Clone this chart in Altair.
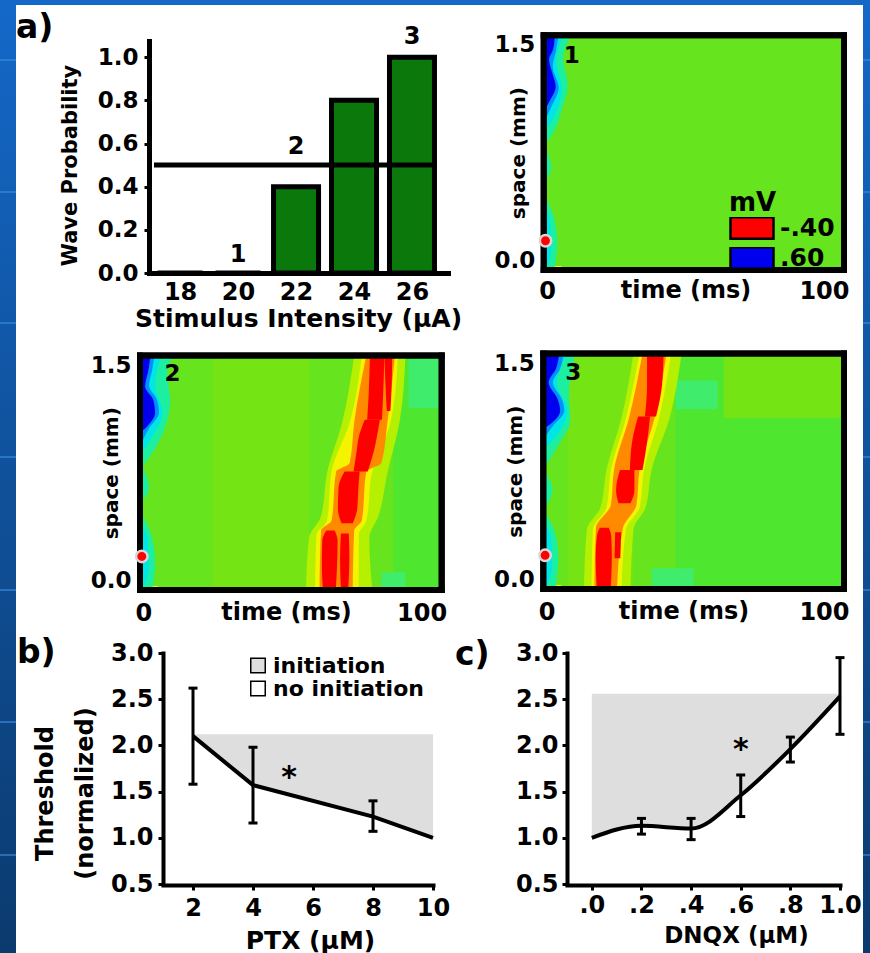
import altair as alt
import pandas as pd

W, H = 870, 953
FONT = "DejaVu Sans"

# ------------------------------------------------------------------ data
intensity = [18, 20, 22, 24, 26]
wave_prob = [0.0, 0.0, 0.4, 0.8, 1.0]
half_prob = 0.5
note_text = ["1", "2", "3"]
note_intensity = [20, 22, 26]
note_prob = [0.03, 0.53, 1.04]

ptx = [2, 4, 8, 10]
ptx_threshold = [2.10, 1.57, 1.23, 1.00]
ptx_err_x = [2, 4, 8]
ptx_err_lo = [1.58, 1.16, 1.07]
ptx_err_hi = [2.62, 1.98, 1.40]
ptx_initiation_top = 2.12
ptx_star = [5.2, 1.70]

dnqx = [0.0, 0.2, 0.4, 0.6, 0.8, 1.0]
dnqx_threshold = [1.00, 1.13, 1.10, 1.46, 1.96, 2.53]
dnqx_err_x = [0.2, 0.4, 0.6, 0.8, 1.0]
dnqx_err_lo = [1.04, 0.98, 1.23, 1.82, 2.12]
dnqx_err_hi = [1.21, 1.21, 1.68, 2.09, 2.95]
dnqx_initiation_top = 2.56
dnqx_star = [0.6, 2.0]

region_names = ["initiation", "no initiation"]
region_colors = ["#dedede", "#ffffff"]

level_names = ["-.40", "orange", "yellow", "ygreen", "lgreen", "green", "pgreen",
               "aqua2", "aqua", "cyan", "sky", ".60"]
level_colors = ["#ff0000", "#ff8a00", "#f4f400", "#b4f000", "#74e414", "#66e41e",
                "#4ee62e", "#40ec6c", "#1cf0a0", "#00e6e6", "#0090ff", "#0000ee"]
S_MIN, S_MAX = -0.063, 1.566

zones1 = [("yellow", 0, 6, -0.063, -0.035)]
zones2 = [("lgreen", 24, 56, -0.063, 1.566), ("pgreen", 84, 100, -0.063, 1.566),
          ("aqua2", 89, 99, 1.2, 1.566), ("aqua2", 80, 88, -0.063, 0.06),
          ("yellow", 0, 6, -0.063, -0.035)]
zones3 = [("lgreen", 8, 30, -0.063, 1.566), ("pgreen", 44, 100, -0.063, 1.566),
          ("lgreen", 60, 100, 1.12, 1.566), ("aqua2", 44, 58, 1.18, 1.38),
          ("aqua2", 36, 50, -0.063, 0.08), ("yellow", 0, 6, -0.063, -0.035)]

rings1 = {
    "aqua": {"top": [(0.82, 0, 1.0), (0.92, 0, 4.0), (1.05, 0, 6.0), (1.22, 0, 8.0), (1.40, 0, 6.5), (1.566, 0, 9.0)],
             "low": [(-0.063, 0, 3.5), (0.12, 0, 4.5), (0.30, 0, 3.5), (0.42, 0, 1.0)],
             "mid": [(0.55, 0, 0.5), (0.65, 0, 2.5), (0.78, 0, 0.5)]},
    "cyan": {"top": [(0.92, 0, 1.0), (1.00, 0, 3.5), (1.20, 0, 6.0), (1.38, 0, 4.2), (1.566, 0, 6.5)],
             "low": [(-0.03, 0, 1.5), (0.08, 0, 2.5), (0.30, 0, 2.0), (0.36, 0, 0.8)]},
    "sky": {"top": [(1.00, 0, 1.0), (1.08, 0, 2.8), (1.20, 0, 5.0), (1.35, 0, 3.0), (1.45, 0, 4.0), (1.566, 0, 5.0)]},
    ".60": {"top": [(1.07, 0, 0.9), (1.11, 0, 2.0), (1.21, 0, 4.0), (1.30, 0, 2.9), (1.40, 0, 1.8), (1.465, 0, 3.1), (1.566, 0, 3.7)]},
}
rings2 = {
    "aqua": {"top": [(0.80, 0, 1.0), (0.92, 0, 5.0), (1.05, 0, 8.0), (1.25, 0, 10.0), (1.45, 0, 9.0), (1.566, 0, 11.0)],
             "low": [(-0.063, 0, 4.0), (0.12, 0, 5.0), (0.30, 0, 4.0), (0.45, 0, 1.0)],
             "mid": [(0.55, 0, 0.5), (0.65, 0, 3.0), (0.80, 0, 0.5)]},
    "cyan": {"top": [(0.90, 0, 1.0), (1.00, 0, 4.0), (1.17, 0, 7.5), (1.35, 0, 5.0), (1.566, 0, 7.0)],
             "low": [(-0.03, 0, 1.5), (0.10, 0, 3.0), (0.30, 0, 2.5), (0.38, 0, 0.8)]},
    "sky": {"top": [(0.98, 0, 1.0), (1.06, 0, 3.0), (1.17, 0, 6.3), (1.26, 0, 5.6), (1.36, 0, 3.0), (1.46, 0, 4.0), (1.566, 0, 4.8)]},
    ".60": {"top": [(1.05, 0, 1.3), (1.083, 0, 2.8), (1.166, 0, 5.0), (1.257, 0, 4.4), (1.35, 0, 1.7), (1.465, 0, 2.8), (1.566, 0, 3.5)]},
}
rings3 = {
    "aqua": {"top": [(0.80, 0, 1.0), (0.95, 0, 5.5), (1.10, 0, 9.0), (1.30, 0, 8.5), (1.45, 0, 9.5), (1.566, 0, 10.5)],
             "low": [(-0.063, 0, 4.0), (0.15, 0, 5.0), (0.32, 0, 4.0), (0.45, 0, 1.0)],
             "mid": [(0.50, 0, 0.5), (0.62, 0, 3.0), (0.75, 0, 0.5)]},
    "cyan": {"top": [(0.92, 0, 1.0), (1.00, 0, 4.5), (1.17, 0, 8.0), (1.36, 0, 4.5), (1.566, 0, 8.0)],
             "low": [(-0.03, 0, 1.5), (0.10, 0, 3.0), (0.30, 0, 2.5), (0.38, 0, 0.8)]},
    "sky": {"top": [(1.00, 0, 1.0), (1.06, 0, 3.0), (1.17, 0, 7.0), (1.25, 0, 6.2), (1.366, 0, 3.2), (1.46, 0, 5.6), (1.566, 0, 6.7)]},
    ".60": {"top": [(1.055, 0, 0.9), (1.09, 0, 3.1), (1.17, 0, 5.6), (1.25, 0, 4.8), (1.366, 0, 1.8), (1.46, 0, 4.2), (1.566, 0, 5.3)]},
}

wave1 = {}
wave2 = {
    "ygreen": {"w": [(-0.063, 55, 77), (0.30, 56, 76), (0.45, 60, 79), (0.75, 62, 82), (1.10, 67, 86), (1.566, 71, 88)]},
    "yellow": {"w": [(-0.063, 58, 72.5), (0.32, 58.5, 72.5), (0.42, 62, 75), (0.76, 63.5, 77), (1.10, 69.5, 83), (1.566, 73.5, 85.5)]},
    "orange": {"w": [(-0.063, 59.5, 70.5), (0.35, 60, 71), (0.42, 63.5, 73.5), (0.76, 65, 75), (0.82, 69.5, 80), (1.10, 71, 82), (1.566, 75, 84.5)]},
    "-.40": {"r1": [(-0.063, 60.6, 64.9), (0.10, 60.3, 65.3), (0.28, 60.4, 65.5), (0.35, 61.8, 64.5)],
             "r2": [(-0.063, 66.6, 69.0), (0.15, 66.3, 69.4), (0.33, 66.6, 69.2)],
             "r3": [(0.40, 66.8, 70.5), (0.50, 65.6, 72.0), (0.65, 65.8, 72.4), (0.76, 67.8, 72.8)],
             "r4": [(0.76, 70.8, 75.5), (0.90, 71.8, 77.5), (1.00, 72.5, 78.5), (1.12, 74.5, 79.5)],
             "r5": [(1.12, 75.3, 80.2), (1.30, 75.8, 80.6), (1.566, 76.2, 81.0)],
             "r6": [(1.18, 81.8, 83.0), (1.35, 81.4, 83.4), (1.566, 81.0, 83.6)]},
}
wave3 = {
    "ygreen": {"w": [(-0.063, 13.5, 29), (0.35, 14.5, 30), (0.50, 19, 34), (0.76, 21, 36), (1.12, 26, 42), (1.566, 30, 46)]},
    "yellow": {"w": [(-0.063, 16, 26), (0.35, 16.5, 27.5), (0.50, 21, 32), (0.76, 22.5, 33.5), (1.12, 27.5, 38.5), (1.566, 32, 42.5)]},
    "orange": {"w": [(-0.063, 17, 24.5), (0.36, 17.5, 26.5), (0.52, 22.5, 31), (0.76, 23.5, 32), (1.12, 28.5, 37), (1.566, 33, 41)]},
    "-.40": {"r1": [(-0.063, 17.8, 22.4), (0.15, 17.4, 22.8), (0.30, 17.8, 22.6), (0.36, 18.8, 21.8)],
             "r2": [(0.15, 23.7, 25.6), (0.33, 23.9, 25.9)],
             "r3": [(0.53, 25.0, 29.0), (0.62, 24.2, 30.3), (0.76, 25.5, 30.3)],
             "r4": [(0.76, 28.8, 33.0), (0.95, 29.5, 34.5), (1.13, 31.5, 35.5)],
             "r5": [(1.13, 33.8, 37.5), (1.35, 34.5, 39.5), (1.566, 34.5, 40.0)]},
}
stim_site = [0.14, 0.17, 0.17]
map_number = [("1", 9.3, 1.42), ("2", 10.8, 1.44), ("3", 10.0, 1.43)]

# ------------------------------------------------------------------ helpers
def sc(domain, rng):
    return alt.Scale(domain=domain, range=rng, nice=False, zero=False)

ONE = pd.DataFrame({"k": [0]})

def shapes_df(level, parts):
    rows = []
    for part, pts in parts.items():
        for s, t0, t1 in pts:
            rows.append({"level": level, "part": part, "s": s, "t": t0, "t1": t1})
    return pd.DataFrame(rows)

# ------------------------------------------------------------------ slide frame (blue margins only)
grad = alt.Gradient(gradient="linear", x1=0, x2=0, y1=0, y2=1,
                    stops=[alt.GradientStop(color="#1468c8", offset=0),
                           alt.GradientStop(color="#0b3a6e", offset=1)])
frame_parts = []
for xa, xb in [(0, 16), (863, W)]:
    frame_parts.append(alt.Chart(ONE).mark_rect(color=grad).encode(
        x=alt.value(xa), x2=alt.value(xb), y=alt.value(0), y2=alt.value(H)))
frame_parts.append(alt.Chart(ONE).mark_rect(color="#1468c8").encode(
    x=alt.value(0), x2=alt.value(W), y=alt.value(0), y2=alt.value(5)))
for yy in [60, 192, 323, 457, 590, 722, 855]:
    for xa, xb in [(0, 16), (863, W)]:
        frame_parts.append(alt.Chart(ONE).mark_rule(color="#3d8de0", strokeWidth=1.5, opacity=0.8).encode(
            x=alt.value(xa), x2=alt.value(xb), y=alt.value(yy)))

# ------------------------------------------------------------------ a) bar chart
BX = sc([17.1, 27.07], [149, 448])
BY = sc([0, 1.075], [273, 41])
BXA = alt.Axis(orient="bottom", offset=273 - H, values=intensity, format="d", ticks=False, zindex=1,
               domainWidth=5, labelFontSize=24, labelPadding=7,
               title="Stimulus Intensity (µA)", titleFontSize=25, titleX=298, titleY=45,
               titleBaseline="middle", titleAlign="center")
BYA = alt.Axis(orient="left", offset=-149, values=[0, 0.2, 0.4, 0.6, 0.8, 1.0], format=".1f", zindex=1,
               tickSize=5, tickWidth=3, domainWidth=5, labelFontSize=23, labelPadding=6,
               title="Wave Probability", titleFontSize=21, titleAngle=270, titleX=-79, titleY=165,
               titleBaseline="middle", titleAlign="center")
bar_df = pd.DataFrame({"intensity": intensity, "prob": wave_prob})
bars = alt.Chart(bar_df).mark_bar(size=45, fill="#0a780a", stroke="black", strokeWidth=5).encode(
    x=alt.X("intensity:Q", scale=BX, axis=BXA), y=alt.Y("prob:Q", scale=BY, axis=BYA))
half_df = pd.DataFrame({"intensity": [BX.domain[0]], "x1": [intensity[-1] + 0.85], "prob": [half_prob]})
half_rule = alt.Chart(half_df).mark_rule(strokeWidth=5, color="black").encode(
    x=alt.X("intensity:Q", scale=BX, axis=BXA), x2="x1", y=alt.Y("prob:Q", scale=BY, axis=BYA))
notes = alt.Chart(pd.DataFrame({"intensity": note_intensity, "prob": note_prob, "t": note_text})).mark_text(
    fontSize=24, fontWeight="bold", baseline="bottom", color="black").encode(
    x=alt.X("intensity:Q", scale=BX, axis=BXA), y=alt.Y("prob:Q", scale=BY, axis=BYA), text="t:N")
panel_a = alt.layer(bars, half_rule, notes)

# ------------------------------------------------------------------ heatmaps
def heatmap(idx, xr, yr, zones, rings, wave, title_x, ytitle_x, xlab_pad, xtitle_y, legend):
    xs = sc([0, 100], xr)
    ys = sc([S_MIN, S_MAX], yr)
    cs = alt.Scale(domain=level_names, range=level_colors)
    XA = alt.Axis(orient="bottom", offset=yr[0] - H, values=[0, 100], format="d", zindex=1,
                  ticks=False, domain=False, labelFontSize=24, labelPadding=xlab_pad,
                  labelFlush=True, labelFlushOffset=5,
                  title="time (ms)", titleFontSize=24, titleX=title_x, titleY=xtitle_y,
                  titleBaseline="middle", titleAlign="center")
    YA = alt.Axis(orient="left", offset=-xr[0], values=[0, 1.5], format=".1f", zindex=1,
                  ticks=False, domain=False, labelFontSize=23, labelPadding=9,
                  title="space (mm)", titleFontSize=20, titleAngle=270, titleX=ytitle_x,
                  titleY=(yr[0] + yr[1]) / 2, titleBaseline="middle", titleAlign="center")
    if legend:
        leg = alt.Legend(orient="none", legendX=729, legendY=190, values=["-.40", ".60"],
                         title="mV", titleFontSize=26, titleFont=FONT, titleFontWeight="bold",
                         titleColor="black", titlePadding=1,
                         symbolType="M-1,-0.5L1,-0.5L1,0.5L-1,0.5Z", symbolSize=1849,
                         symbolStrokeColor="black", symbolStrokeWidth=2.5, symbolOpacity=1,
                         labelFontSize=25, labelFont=FONT, labelFontWeight="bold", labelColor="black",
                         labelOffset=5, clipHeight=22, rowPadding=5, padding=0, zindex=1)
    else:
        leg = None
    base_df = pd.DataFrame({"level": ["green"], "t": [0], "t1": [100], "s": [S_MIN], "s1": [S_MAX]})
    layers = [alt.Chart(base_df).mark_rect().encode(
        x=alt.X("t:Q", scale=xs, axis=XA), x2="t1",
        y=alt.Y("s:Q", scale=ys, axis=YA), y2="s1",
        color=alt.Color("level:N", scale=cs, legend=leg))]
    zdf = pd.DataFrame(zones, columns=["level", "t", "t1", "s", "s1"])
    layers.append(alt.Chart(zdf).mark_rect().encode(
        x=alt.X("t:Q", scale=xs, axis=XA), x2="t1",
        y=alt.Y("s:Q", scale=ys, axis=YA), y2="s1",
        color=alt.Color("level:N", scale=cs, legend=None)))
    for group in (rings, wave):
        for level in ["aqua", "cyan", "sky", ".60", "ygreen", "yellow", "orange", "-.40"]:
            if level not in group:
                continue
            df = shapes_df(level, group[level])
            layers.append(alt.Chart(df).mark_area(orient="horizontal", interpolate="monotone").encode(
                y=alt.Y("s:Q", scale=ys, axis=YA),
                x=alt.X("t:Q", scale=xs, axis=XA), x2="t1",
                color=alt.Color("level:N", scale=cs, legend=None),
                detail="part:N"))
    frame_df = pd.DataFrame({"t": [0], "t1": [100], "s": [S_MIN], "s1": [S_MAX]})
    layers.append(alt.Chart(frame_df).mark_rect(fillOpacity=0, stroke="black", strokeWidth=6).encode(
        x=alt.X("t:Q", scale=xs, axis=XA), x2="t1",
        y=alt.Y("s:Q", scale=ys, axis=YA), y2="s1"))
    # border edges drawn again as rules so every side of the map is framed
    edges = pd.DataFrame({"t": [0, 100, 0, 0], "t1": [0, 100, 100, 100],
                          "s": [S_MIN, S_MIN, S_MIN, S_MAX], "s1": [S_MAX, S_MAX, S_MIN, S_MAX]})
    layers.append(alt.Chart(edges).mark_rule(color="black", strokeWidth=6, strokeCap="square").encode(
        x=alt.X("t:Q", scale=xs, axis=XA), x2="t1",
        y=alt.Y("s:Q", scale=ys, axis=YA), y2="s1"))
    dot_df = pd.DataFrame({"t": [0.6], "s": [stim_site[idx]]})
    layers.append(alt.Chart(dot_df).mark_point(shape="circle", filled=True, fill="#ff0000",
                                               stroke="#d6d6d6", strokeWidth=2.5, size=130, opacity=1).encode(
        x=alt.X("t:Q", scale=xs, axis=XA), y=alt.Y("s:Q", scale=ys, axis=YA)))
    lab, lt, ls = map_number[idx]
    num_df = pd.DataFrame({"t": [lt], "s": [ls], "txt": [lab]})
    layers.append(alt.Chart(num_df).mark_text(fontSize=23, fontWeight="bold", color="black",
                                              baseline="middle").encode(
        x=alt.X("t:Q", scale=xs, axis=XA), y=alt.Y("s:Q", scale=ys, axis=YA), text="txt:N"))
    return alt.layer(*layers)

h1 = heatmap(0, [543.7, 844], [270, 35.2], zones1, rings1, wave1, 685.5, -25, 9, 20, True)
h2 = heatmap(1, [140, 441.7], [590, 355.5], zones2, rings2, wave2, 286, -28.5, 11, 22, False)
h3 = heatmap(2, [543.3, 844], [589, 353.5], zones3, rings3, wave3, 683.5, -28, 11, 22, False)

# ------------------------------------------------------------------ b) and c)
def threshold_panel(xs, ys, xv, thr, top, ex, elo, ehi, star, XA, YA, legend, interp):
    reg = pd.DataFrame({"x": xv, "y": thr, "top": [top] * len(xv), "region": [region_names[0]] * len(xv)})
    cs = alt.Scale(domain=region_names, range=region_colors)
    area = alt.Chart(reg).mark_area(interpolate=interp, opacity=1).encode(
        x=alt.X("x:Q", scale=xs, axis=XA),
        y=alt.Y("y:Q", scale=ys, axis=YA), y2="top",
        color=alt.Color("region:N", scale=cs, legend=legend))
    line = alt.Chart(reg).mark_line(interpolate=interp, strokeWidth=4, color="black").encode(
        x=alt.X("x:Q", scale=xs, axis=XA), y=alt.Y("y:Q", scale=ys, axis=YA))
    err = pd.DataFrame({"x": ex, "y": elo, "hi": ehi})
    bars_ = alt.Chart(err).mark_rule(strokeWidth=3, color="black").encode(
        x=alt.X("x:Q", scale=xs, axis=XA), y=alt.Y("y:Q", scale=ys, axis=YA), y2="hi")
    caps = alt.Chart(err).transform_fold(["y", "hi"], as_=["k", "v"]).transform_calculate(
        y="datum.v").mark_tick(orient="horizontal", size=9, thickness=3, color="black", opacity=1).encode(
        x=alt.X("x:Q", scale=xs, axis=XA), y=alt.Y("y:Q", scale=ys, axis=YA))
    st = alt.Chart(pd.DataFrame({"x": [star[0]], "y": [star[1]]})).mark_text(
        text="*", fontSize=30, fontWeight="bold", color="black", baseline="middle", dy=5).encode(
        x=alt.X("x:Q", scale=xs, axis=XA), y=alt.Y("y:Q", scale=ys, axis=YA))
    return alt.layer(area, line, bars_, caps, st)

PX = sc([1, 10], [163, 433])
PY = sc([0.5, 3.0], [884, 653])
b_x_axis = alt.Axis(orient="bottom", offset=885 - H, values=[2, 4, 6, 8, 10], format="d", zindex=1,
                    tickSize=5, tickWidth=3, domainWidth=4, labelFontSize=24, labelPadding=6,
                    title="PTX (µM)", titleFontSize=25, titleX=310, titleY=55,
                    titleBaseline="middle", titleAlign="center")
b_y_axis = alt.Axis(orient="left", offset=-163, values=[0.5, 1.0, 1.5, 2.0, 2.5, 3.0], format=".1f", zindex=1,
                    tickSize=5, tickWidth=3, domainWidth=4, labelFontSize=24, labelPadding=5,
                    title=["Threshold", "(normalized)"], titleFontSize=24, titleLineHeight=40,
                    titleAngle=270, titleX=-130, titleY=793, titleBaseline="top", titleAlign="center")
b_leg = alt.Legend(orient="none", legendX=247, legendY=655, title=None, symbolType="square",
                   symbolSize=210, symbolStrokeColor="black", symbolStrokeWidth=1.5, symbolOpacity=1,
                   labelFontSize=22, labelFont=FONT, labelFontWeight="bold", labelColor="black",
                   labelOffset=4, clipHeight=21, rowPadding=0, padding=0, zindex=1)
panel_b = threshold_panel(PX, PY, ptx, ptx_threshold, ptx_initiation_top, ptx_err_x, ptx_err_lo,
                          ptx_err_hi, ptx_star, b_x_axis, b_y_axis, b_leg, "linear")

CX = sc([-0.1, 1.0], [567, 840])
CY = sc([0.5, 3.0], [884, 653])
c_x_axis = alt.Axis(orient="bottom", offset=885 - H, values=dnqx, zindex=1,
                    labelExpr="datum.value >= 1 ? '1.0' : replace(format(datum.value, '.1f'), '0.', '.')",
                    tickSize=5, tickWidth=3, domainWidth=4, labelFontSize=24, labelPadding=3,
                    title="DNQX (µM)", titleFontSize=23, titleX=736, titleY=50,
                    titleBaseline="middle", titleAlign="center")
c_y_axis = alt.Axis(orient="left", offset=-567, values=[0.5, 1.0, 1.5, 2.0, 2.5, 3.0], format=".1f", zindex=1,
                    tickSize=5, tickWidth=3, domainWidth=4, labelFontSize=24, labelPadding=4, title="")
panel_c = threshold_panel(CX, CY, dnqx, dnqx_threshold, dnqx_initiation_top, dnqx_err_x, dnqx_err_lo,
                          dnqx_err_hi, dnqx_star, c_x_axis, c_y_axis, None, "monotone")

letters = []
for txt, lx, ly in [("a)", 16, 38), ("b)", 17, 663), ("c)", 455, 665)]:
    letters.append(alt.Chart(ONE).mark_text(text=txt, fontSize=33, fontWeight="bold", color="black",
                                            align="left", baseline="alphabetic").encode(
        x=alt.value(lx), y=alt.value(ly)))

chart = alt.layer(*frame_parts, panel_a, h1, h2, h3, panel_b, panel_c, *letters).resolve_scale(
    x="independent", y="independent", color="independent"
).properties(
    width=W, height=H, padding=0, autosize=alt.AutoSizeParams(type="none"), background="white"
).configure_view(stroke="transparent").configure_axis(
    labelFont=FONT, labelFontWeight="bold", labelColor="black", titleFont=FONT,
    titleFontWeight="bold", titleColor="black", grid=False, labelOverlap=False,
    labelFlush=False, labelBound=False, domainColor="black", tickColor="black",
    domainCap="square"
).configure_text(font=FONT)

chart.save("out.html", embed_options={"renderer": "svg", "actions": False})
